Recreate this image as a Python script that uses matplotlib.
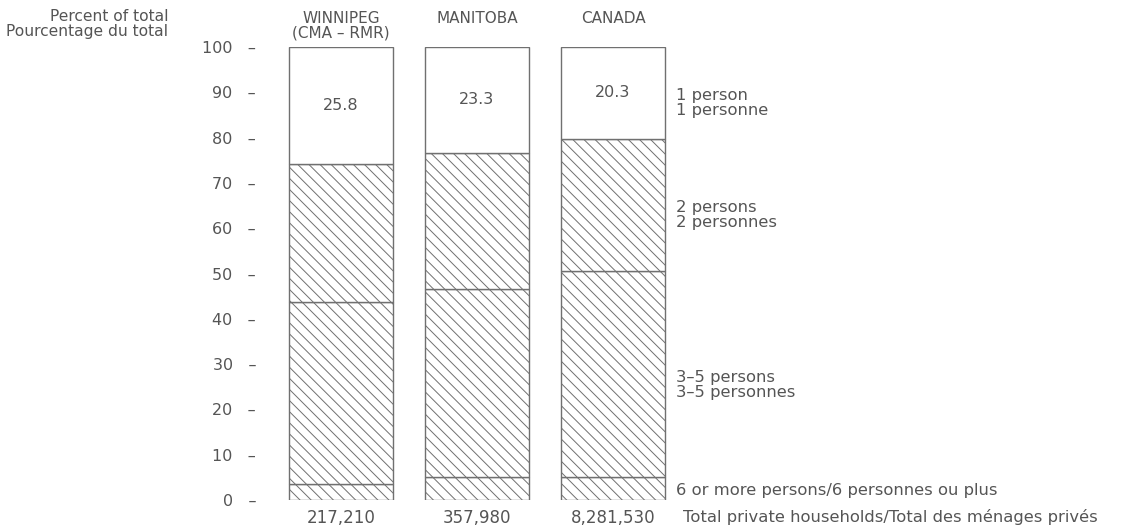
import matplotlib
matplotlib.use("Agg")
import matplotlib.pyplot as plt

regions = ["WINNIPEG\n(CMA – RMR)", "MANITOBA", "CANADA"]
totals = ["217,210", "357,980", "8,281,530"]
six_plus = [3.5, 5.1, 5.1]
three_five = [40.2, 41.4, 45.4]
two = [30.5, 30.2, 29.2]
one = [25.8, 23.3, 20.3]
yticks = [0, 10, 20, 30, 40, 50, 60, 70, 80, 90, 100]
seg_labels = ["6 or more persons/6 personnes ou plus",
              "3–5 persons\n3–5 personnes",
              "2 persons\n2 personnes",
              "1 person\n1 personne"]

TXT = "#555555"
LINE = "#707070"
plt.rcParams['font.family'] = ['DejaVu Sans']
plt.rcParams['hatch.color'] = '#9a9a9a'
plt.rcParams['hatch.linewidth'] = 0.7

W, H = 1137, 529
fig = plt.figure(figsize=(W / 100, H / 100), dpi=100)
ax_left, ax_right = 270, 1100
ax_bot, ax_top = 500, 47
ax = fig.add_axes([ax_left / W, (H - ax_bot) / H, (ax_right - ax_left) / W, (ax_bot - ax_top) / H])
unit = 136.0
c0 = 341.0
ax.set_xlim(-(c0 - ax_left) / unit, (ax_right - c0) / unit)
ax.set_ylim(0, 100)
for s in ax.spines.values():
    s.set_visible(False)
ax.set_xticks([])
ax.set_yticks(yticks)
ax.set_yticklabels([f"{t}   –" for t in yticks], color=TXT, fontsize=11.5)
ax.tick_params(axis='y', length=0, pad=10)

x = list(range(len(regions)))
bw = 104 / unit
bottoms = [0, 0, 0]
segs = [six_plus, three_five, two, one]
hatches = ['\\\\\\', '\\\\\\', '\\\\\\', None]
for vals, h in zip(segs, hatches):
    ax.bar(x, vals, bw, bottom=bottoms, facecolor='white', edgecolor=LINE,
           linewidth=1.0, hatch=h)
    bottoms = [b + v for b, v in zip(bottoms, vals)]

# values in 1 person segment
for i in x:
    base = 100 - one[i]
    ax.text(i, base + one[i] / 2, f"{one[i]:.1f}", ha='center', va='center',
            color=TXT, fontsize=11.5)

# region headers (top-aligned)
for i, r in enumerate(regions):
    ax.text(i, 108.0, r, ha='center', va='top', color=TXT, fontsize=11,
            linespacing=1.0, clip_on=False)

# totals below
for i, t in enumerate(totals):
    ax.text(i, -2.0, t, ha='center', va='top', color=TXT, fontsize=12, clip_on=False)

lx = (676 - c0) / unit
label_y = [2.0, 25.4, 63.0, 87.6]
for lab, yy in zip(seg_labels, label_y):
    ax.text(lx, yy, lab, ha='left', va='center', color=TXT, fontsize=11.8,
            linespacing=1.0)

ax.text((683 - c0) / unit, -2.0, "Total private households/Total des ménages privés",
        ha='left', va='top', color=TXT, fontsize=11.8, clip_on=False)

fig.text(168 / W, 1 - 9 / H, "Percent of total\nPourcentage du total", ha='right', va='top',
         color=TXT, fontsize=11.2, linespacing=1.0)

fig.savefig("out.png", dpi=100, facecolor='white')
